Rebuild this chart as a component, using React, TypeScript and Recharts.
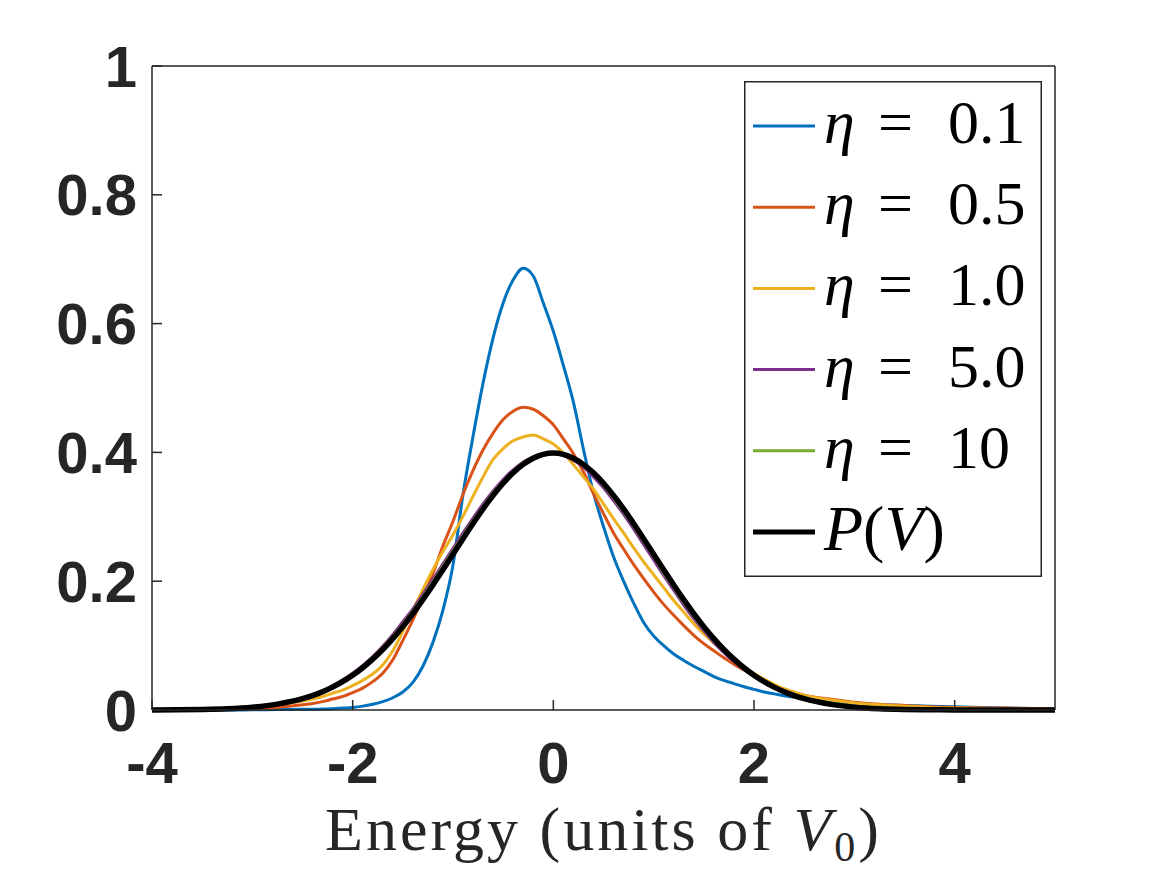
import React from 'react';
import { LineChart, Line, XAxis, YAxis, Legend } from 'recharts';

// energy grid (units of V0) and densities
const energy = [
  -4, -3.75, -3.5, -3.25, -3, -2.75,
  -2.5, -2.4, -2.3, -2.2, -2.1, -2.0, -1.9, -1.8, -1.7, -1.6, -1.5, -1.4, -1.3, -1.2, -1.1, -1.0,
  -0.9, -0.8, -0.7, -0.6, -0.5, -0.4, -0.3, -0.2, -0.1, 0.0, 0.1, 0.2, 0.3, 0.4, 0.5, 0.6, 0.7,
  0.8, 0.9, 1.0, 1.1, 1.2, 1.3, 1.4, 1.5, 1.6, 1.7, 1.8, 1.9, 2.0, 2.1, 2.2, 2.3, 2.4, 2.5,
  2.75, 3, 3.25, 3.5, 3.75, 4, 4.5, 5,
];

const eta01 = [
  0, 0, 0, 0, 0.0003, 0.0006,
  0.001, 0.001, 0.0015, 0.002, 0.003, 0.004, 0.006, 0.009, 0.013, 0.019, 0.028, 0.043, 0.068, 0.105, 0.155, 0.225,
  0.335, 0.425, 0.508, 0.578, 0.632, 0.668, 0.686, 0.674, 0.632, 0.588, 0.535, 0.478, 0.405, 0.337, 0.285, 0.238, 0.2,
  0.166, 0.136, 0.115, 0.1, 0.087, 0.077, 0.068, 0.06, 0.052, 0.046, 0.041, 0.036, 0.032, 0.028, 0.025, 0.022, 0.02, 0.018,
  0.013, 0.01, 0.008, 0.007, 0.006, 0.005, 0.003, 0.002,
];

const eta05 = [
  0, 0, 0.0005, 0.001, 0.002, 0.004,
  0.008, 0.01, 0.013, 0.017, 0.021, 0.027, 0.034, 0.044, 0.057, 0.078, 0.108, 0.14, 0.175, 0.212, 0.255, 0.293,
  0.335, 0.372, 0.404, 0.43, 0.451, 0.464, 0.47, 0.467, 0.457, 0.443, 0.421, 0.398, 0.37, 0.336, 0.305, 0.275, 0.25,
  0.226, 0.204, 0.183, 0.164, 0.147, 0.131, 0.116, 0.103, 0.092, 0.081, 0.071, 0.062, 0.053, 0.045, 0.038, 0.032, 0.027, 0.023,
  0.017, 0.012, 0.009, 0.007, 0.005, 0.004, 0.003, 0.002,
];

const eta1 = [
  0, 0.0005, 0.001, 0.002, 0.004, 0.008,
  0.014, 0.017, 0.021, 0.026, 0.031, 0.038, 0.046, 0.056, 0.07, 0.092, 0.122, 0.155, 0.187, 0.218, 0.246, 0.272,
  0.301, 0.332, 0.362, 0.389, 0.406, 0.418, 0.424, 0.427, 0.421, 0.413, 0.399, 0.381, 0.362, 0.343, 0.32, 0.297, 0.275,
  0.252, 0.23, 0.21, 0.19, 0.17, 0.152, 0.134, 0.118, 0.104, 0.091, 0.079, 0.067, 0.057, 0.048, 0.04, 0.033, 0.028, 0.023,
  0.016, 0.011, 0.008, 0.006, 0.004, 0.003, 0.002, 0.001,
];

const eta5 = [
  0.0002, 0.0005, 0.001, 0.0023, 0.005, 0.01,
  0.019, 0.024, 0.03, 0.038, 0.047, 0.057, 0.069, 0.083, 0.099, 0.117, 0.137, 0.157, 0.18, 0.203, 0.227, 0.251,
  0.275, 0.298, 0.32, 0.34, 0.358, 0.373, 0.385, 0.393, 0.398, 0.399, 0.395, 0.388, 0.377, 0.362, 0.345, 0.325, 0.304,
  0.281, 0.257, 0.233, 0.209, 0.186, 0.163, 0.142, 0.123, 0.105, 0.089, 0.075, 0.063, 0.052, 0.043, 0.035, 0.028, 0.023, 0.018,
  0.0094, 0.005, 0.0024, 0.0012, 0.0006, 0.0003, 0.0001, 0,
];

const eta10 = [
  0.0001, 0.0004, 0.001, 0.0022, 0.0047, 0.0095,
  0.018, 0.023, 0.029, 0.037, 0.046, 0.056, 0.067, 0.081, 0.097, 0.114, 0.133, 0.154, 0.176, 0.199, 0.223, 0.247,
  0.271, 0.294, 0.316, 0.337, 0.355, 0.371, 0.384, 0.392, 0.397, 0.399, 0.396, 0.39, 0.38, 0.366, 0.349, 0.329, 0.308,
  0.286, 0.262, 0.238, 0.213, 0.19, 0.167, 0.146, 0.126, 0.108, 0.092, 0.077, 0.064, 0.053, 0.043, 0.035, 0.028, 0.022, 0.018,
  0.0092, 0.0046, 0.0021, 0.001, 0.0004, 0.0002, 0, 0,
];

const pV = [
  0.0001, 0.0004, 0.0009, 0.002, 0.0044, 0.0091,
  0.0175, 0.0224, 0.0283, 0.0355, 0.044, 0.054, 0.0656, 0.079, 0.094, 0.1109, 0.1295, 0.1497, 0.1714, 0.1942, 0.2179, 0.242,
  0.2661, 0.2897, 0.3123, 0.3332, 0.3521, 0.3683, 0.3814, 0.391, 0.397, 0.3989, 0.397, 0.391, 0.3814, 0.3683, 0.3521, 0.3332, 0.3123,
  0.2897, 0.2661, 0.242, 0.2179, 0.1942, 0.1714, 0.1497, 0.1295, 0.1109, 0.094, 0.079, 0.0656, 0.054, 0.044, 0.0355, 0.0283, 0.0224, 0.0175,
  0.0091, 0.0044, 0.002, 0.0009, 0.0004, 0.0001, 0, 0,
];

const xTicks = [-4, -2, 0, 2, 4];
const yTicks = [0, 0.2, 0.4, 0.6, 0.8, 1];

const series = [
  { key: 'eta01', label: '0.1', color: '#0072BD', width: 3 },
  { key: 'eta05', label: '0.5', color: '#D95319', width: 3 },
  { key: 'eta1', label: '1.0', color: '#EDB120', width: 3 },
  { key: 'eta5', label: '5.0', color: '#7E2F8E', width: 3 },
  { key: 'eta10', label: '10', color: '#77AC30', width: 3 },
  { key: 'pV', label: 'P(V)', color: '#000000', width: 5.5 },
];

const data = energy.map((e, i) => ({
  e,
  eta01: eta01[i],
  eta05: eta05[i],
  eta1: eta1[i],
  eta5: eta5[i],
  eta10: eta10[i],
  pV: pV[i],
}));

const AXIS = '#262626';
const tickFont = { fill: AXIS, fontSize: 58, fontWeight: 700, fontFamily: '"Liberation Sans", Arial, sans-serif' };
const serif = '"Liberation Serif", "Times New Roman", serif';

const LegendBox = () => (
  <svg width={298} height={496} style={{ display: 'block' }}>
    <rect x={0.75} y={0.75} width={296.5} height={494.5} fill="#fff" stroke={AXIS} strokeWidth={1.5} />
    {series.map((s, i) => {
      const cy = 45 + i * 81.2;
      return (
        <g key={s.key}>
          <line x1={9} x2={71} y1={cy} y2={cy} stroke={s.color} strokeWidth={s.key === 'pV' ? 5 : 3} />
          {s.key === 'pV' ? (
            <text x={80} y={cy + 18} fontFamily={serif} fontSize={64} fill="#000">
              <tspan fontStyle="italic">P</tspan>(<tspan fontStyle="italic">V</tspan>)
            </text>
          ) : (
            <text y={cy + 17} fontFamily={serif} fontSize={62} fill="#000">
              <tspan x={80} fontStyle="italic">η</tspan>
              <tspan x={134}>=</tspan>
              <tspan x={204}>{s.label}</tspan>
            </text>
          )}
        </g>
      );
    })}
  </svg>
);

export default function App() {
  return (
    <div style={{ position: 'absolute', left: 0, top: 0, width: 1167, height: 875, background: '#fff' }}>
      <LineChart width={1167} height={875} data={data} margin={{ top: 65, right: 111, left: 92, bottom: 105 }}>
        <XAxis
          dataKey="e"
          type="number"
          domain={[-4, 5]}
          ticks={xTicks}
          allowDataOverflow
          height={60}
          stroke={AXIS}
          strokeWidth={1.5}
          tickSize={-10}
          tickMargin={42}
          tick={tickFont}
        />
        <XAxis
          xAxisId="top"
          orientation="top"
          dataKey="e"
          type="number"
          domain={[-4, 5]}
          ticks={xTicks}
          height={1}
          stroke={AXIS}
          strokeWidth={1.5}
          tickSize={-10}
          tick={false}
        />
        <YAxis
          type="number"
          domain={[0, 1]}
          ticks={yTicks}
          width={60}
          stroke={AXIS}
          strokeWidth={1.5}
          tickSize={-10}
          tickMargin={25}
          tick={tickFont}
          tickFormatter={(v) => String(v)}
        />
        <YAxis
          yAxisId="right"
          orientation="right"
          type="number"
          domain={[0, 1]}
          ticks={yTicks}
          width={1}
          stroke={AXIS}
          strokeWidth={1.5}
          tickSize={-10}
          tick={false}
        />
        {series.map((s) => (
          <Line
            key={s.key}
            type="monotone"
            dataKey={s.key}
            stroke={s.color}
            strokeWidth={s.width}
            dot={false}
            isAnimationActive={false}
          />
        ))}
        <Legend
          layout="vertical"
          align="center"
          verticalAlign="middle"
          content={() => <LegendBox />}
          wrapperStyle={{ position: 'absolute', left: 744, top: 81, width: 298, height: 496 }}
        />
      </LineChart>
      <div
        style={{
          position: 'absolute',
          left: 152,
          width: 903,
          top: 798,
          textAlign: 'center',
          fontFamily: serif,
          fontSize: 62,
          lineHeight: '62px',
          letterSpacing: 3,
          color: AXIS,
          whiteSpace: 'nowrap',
        }}
      >
        Energy (units of <i>V</i>
        <sub style={{ fontSize: 42, verticalAlign: '-0.25em' }}>0</sub>)
      </div>
    </div>
  );
}
